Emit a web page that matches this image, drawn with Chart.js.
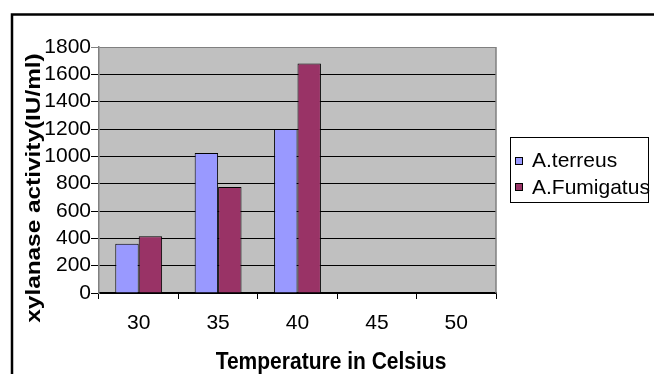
<!DOCTYPE html>
<html>
<head>
<meta charset="utf-8">
<script src="https://cdn.jsdelivr.net/npm/chart.js@4.4.1/dist/chart.umd.min.js"></script>
<style>
    body { margin: 0; background: #fff; }
    canvas { display: block; }
</style>
</head>
<body>
<canvas id="myChart" width="654" height="374"></canvas>
<script>
// temperatures and activity per strain
var temps = ["30", "35", "40", "45", "50"];
var terreus = [360, 1025, 1200, null, null];
var fumigatus = [415, 775, 1680, null, null];
var seriesNames = ["A.terreus", "A.Fumigatus"];
var yTicks = [0, 200, 400, 600, 800, 1000, 1200, 1400, 1600, 1800];
var yTitle = "xylanase activity(IU/ml)";
var xTitle = "Temperature in Celsius";

var fontFam = "'Liberation Sans', Arial, sans-serif";
var colors = ["#9999FF", "#993366"];

//gray plot area, outer frame, titles and legend
var decor = {
    id: "decor",
    beforeDraw: function (chart) {
        var ctx = chart.ctx;
        var a = chart.chartArea;
        ctx.save();
        ctx.fillStyle = "#C0C0C0";
        ctx.fillRect(a.left, a.top, a.right - a.left, a.bottom - a.top);
        ctx.restore();
    },
    afterDraw: function (chart) {
        var ctx = chart.ctx;
        var a = chart.chartArea;
        ctx.save();

        //right edge of plot
        ctx.strokeStyle = "#808080";
        ctx.lineWidth = 1.5;
        ctx.beginPath();
        ctx.moveTo(a.right, a.top);
        ctx.lineTo(a.right, a.bottom);
        ctx.stroke();

        //outer frame
        ctx.strokeStyle = "#000";
        ctx.lineWidth = 2.5;
        ctx.strokeRect(12, 14.5, 700, 420);

        //axis titles, slightly tall
        ctx.fillStyle = "#000";
        ctx.font = "bold 21px " + fontFam;
        ctx.textAlign = "center";
        ctx.textBaseline = "middle";

        ctx.save();
        ctx.translate(331, 362);
        ctx.scale(1, 1.16);
        ctx.fillText(xTitle, 0, 0);
        ctx.restore();

        ctx.save();
        ctx.translate(34, 188);
        ctx.rotate(-Math.PI / 2);
        ctx.scale(1.16, 1);
        ctx.fillText(yTitle, 0, 0);
        ctx.restore();

        //legend
        var lx = 510.5, ly = 137.5, lw = 138, lh = 65;
        ctx.fillStyle = "#fff";
        ctx.fillRect(lx, ly, lw, lh);
        ctx.font = "21px " + fontFam;
        ctx.textAlign = "left";
        ctx.textBaseline = "alphabetic";
        chart.data.datasets.forEach(function (ds, i) {
            var y = 157.5 + i * 26;
            ctx.fillStyle = ds.backgroundColor;
            ctx.fillRect(515.5, y, 7, 7);
            ctx.strokeStyle = "#000";
            ctx.lineWidth = 1;
            ctx.strokeRect(515.5, y, 7, 7);
            ctx.fillStyle = "#000";
            ctx.fillText(ds.label, 532, 167 + i * 27);
        });
        ctx.strokeStyle = "#000";
        ctx.lineWidth = 1;
        ctx.strokeRect(lx, ly, lw, lh);

        ctx.restore();
    }
};

var data = {
    labels: temps,
    datasets: [{
        label: seriesNames[0],
        data: terreus,
        backgroundColor: colors[0],
        borderColor: "#000",
        borderWidth: 1
    }, {
        label: seriesNames[1],
        data: fumigatus,
        backgroundColor: colors[1],
        borderColor: "#000",
        borderWidth: 1
    }]
};

var config = {
    type: "bar",
    data: data,
    options: {
        responsive: false,
        animation: false,
        layout: { padding: { left: 0, top: 47, right: 158, bottom: 0 } },
        datasets: {
            bar: { categoryPercentage: 0.59, barPercentage: 1 }
        },
        plugins: {
            legend: { display: false },
            tooltip: { enabled: false }
        },
        scales: {
            x: {
                grid: {
                    offset: true,
                    drawOnChartArea: false,
                    color: "#000",
                    tickLength: 6
                },
                border: { color: "#000", width: 1.5 },
                ticks: {
                    color: "#000",
                    padding: 12,
                    font: { family: fontFam, size: 21 }
                },
                afterFit: function (scale) { scale.height = 81; }
            },
            y: {
                min: 0,
                max: 1800,
                afterBuildTicks: function (scale) {
                    scale.ticks = yTicks.map(function (v) { return { value: v }; });
                },
                grid: {
                    color: function (c) { return c.tick && c.tick.value == 1800 ? "#808080" : "#000"; },
                    tickLength: 8
                },
                border: { color: "#808080", width: 1.5 },
                ticks: {
                    color: "#000",
                    padding: 0,
                    autoSkip: false,
                    font: { family: fontFam, size: 21 },
                    callback: function (v) { return String(v); }
                },
                afterFit: function (scale) { scale.width = 99; }
            }
        }
    },
    plugins: [decor]
};

var myChart = new Chart(document.getElementById("myChart"), config);
</script>
</body>
</html>
